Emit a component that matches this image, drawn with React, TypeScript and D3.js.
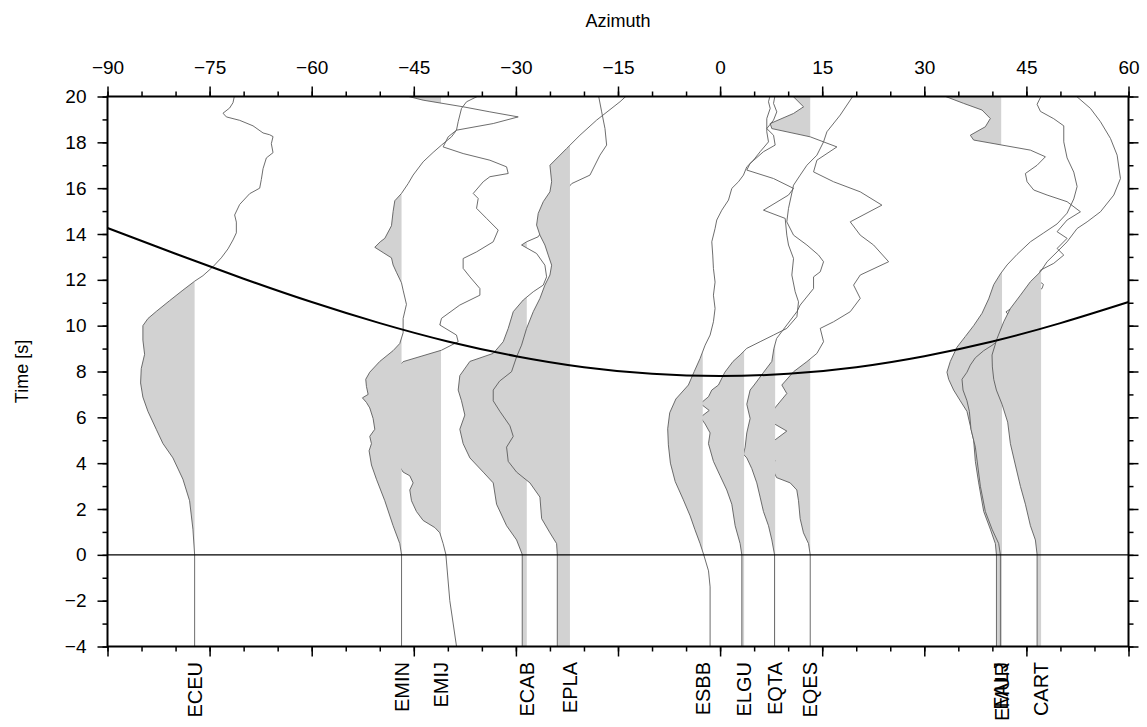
import React, { Component } from "react";
import * as d3 from "d3";

type Pt = [number, number]; // [time (s), azimuth (deg)]

// stations and the azimuth of each trace's zero line
const stations = ["ECEU", "EMIN", "EMIJ", "ECAB", "EPLA", "ESBB", "ELGU", "EQTA", "EQES", "EMUR", "EALJ", "CART"];
const baselines = [-77.2, -46.8, -41.0, -28.4, -22.06, -2.55, 3.53, 8.09, 13.24, 41.42, 41.3, 47.16];
// plotting order: later traces paint their fill over earlier ones
const drawOrder = ["ECEU", "EMIJ", "EMIN", "ECAB", "EPLA", "EQES", "EQTA", "ELGU", "ESBB", "EMUR", "EALJ", "CART"];

const ECEU: Pt[] = [[-4, -77.2], [0, -77.2], [1.12, -77.45], [2.36, -77.94], [3.3, -78.92], [4.23, -80.39], [4.86, -81.86], [5.48, -82.84], [6.26, -84.06], [6.88, -84.8], [7.5, -85.14], [8.13, -85.04], [8.75, -84.55], [9.37, -84.8], [10.0, -84.8], [10.31, -84.06], [10.62, -82.84], [11.09, -80.88], [11.55, -78.92], [11.94, -77.2], [12.18, -75.98], [12.57, -74.51], [12.96, -73.28], [13.35, -72.3], [13.74, -71.56], [14.05, -71.07], [14.52, -71.07], [14.83, -71.32], [15.29, -70.58], [15.76, -69.11], [16.0, -67.64], [16.38, -67.4], [16.85, -67.15], [17.32, -66.66], [17.55, -65.68], [17.94, -65.93], [18.25, -65.68], [18.33, -66.17], [18.41, -67.15], [18.72, -68.62], [18.96, -70.58], [19.11, -72.54], [19.27, -73.03], [19.5, -72.05], [19.73, -71.56], [20.1, -71.3]];
const EMIN: Pt[] = [[-4, -46.8], [0, -46.8], [0.49, -47.06], [1.27, -48.04], [2.36, -49.26], [3.3, -50.49], [3.92, -51.22], [4.54, -51.57], [4.85, -51.22], [5.17, -51.47], [5.48, -50.73], [5.95, -50.98], [6.41, -51.47], [6.65, -51.96], [6.85, -52.55], [7.0, -51.71], [7.35, -51.96], [7.66, -52.06], [7.97, -51.47], [8.44, -50.0], [8.91, -48.04], [9.22, -47.06], [9.69, -46.57], [10.31, -46.57], [10.93, -46.08], [11.55, -46.57], [11.87, -46.81], [12.33, -47.55], [12.65, -48.04], [12.96, -48.28], [13.19, -49.51], [13.42, -50.73], [13.66, -49.93], [13.81, -49.26], [14.36, -48.28], [14.98, -48.04], [15.45, -47.79], [15.77, -46.81], [16.2, -45.83], [16.57, -45.1], [17.15, -43.63], [17.56, -42.16], [17.88, -40.93], [18.24, -39.46], [18.53, -38.73], [18.9, -38.48], [19.48, -37.99], [19.77, -37.25], [20.1, -35.0]];
const EMIJ: Pt[] = [[-4, -38.72], [-2, -39.71], [0.02, -40.29], [0.49, -40.69], [0.96, -41.18], [1.19, -41.91], [1.5, -43.63], [1.89, -44.61], [2.36, -45.34], [2.83, -45.59], [3.14, -45.1], [3.45, -45.59], [3.61, -46.57], [4.08, -47.55], [5.01, -48.04], [6.26, -48.28], [7.5, -48.28], [8.13, -47.55], [8.43, -46.57], [8.93, -40.93], [9.3, -38.48], [9.59, -38.73], [10.03, -41.18], [10.32, -40.93], [10.9, -38.24], [11.33, -35.29], [11.62, -35.29], [12.13, -36.76], [12.5, -37.75], [12.93, -37.75], [13.22, -35.78], [13.66, -33.33], [14.17, -32.6], [14.68, -34.31], [15.12, -35.78], [15.55, -35.54], [15.77, -36.27], [16.28, -34.8], [16.5, -33.82], [16.64, -31.13], [16.93, -31.37], [17.22, -33.82], [17.51, -37.75], [17.8, -40.69], [18.24, -39.95], [18.53, -38.73], [18.82, -33.33], [19.11, -29.66], [19.33, -33.82], [19.55, -37.75], [19.84, -43.63], [20.06, -46.57]];
const ECAB: Pt[] = [[-4, -29.07], [0.02, -29.07], [0.65, -29.9], [1.27, -31.37], [2.21, -32.84], [3.14, -33.33], [3.61, -34.8], [4.23, -36.76], [4.85, -37.75], [5.48, -38.24], [6.1, -37.5], [6.72, -37.99], [7.19, -38.48], [7.82, -38.24], [8.44, -36.76], [8.79, -33.33], [9.3, -31.86], [9.88, -31.13], [10.61, -30.39], [11.12, -28.92], [11.48, -27.45], [11.77, -25.98], [12.13, -25.49], [12.64, -25.74], [13.15, -26.96], [13.52, -29.17], [13.66, -28.43], [13.88, -26.72], [14.6, -25.2], [15.5, -23.8], [16.2, -21.8], [16.57, -19.12], [17.44, -17.65], [17.88, -16.67], [18.6, -16.91], [19.33, -17.4], [20.1, -17.9]];
const EPLA: Pt[] = [[-4, -23.92], [0.02, -23.92], [0.49, -24.02], [0.96, -25.0], [1.58, -26.22], [2.52, -26.47], [3.14, -27.94], [3.61, -29.9], [4.08, -31.13], [4.7, -31.37], [5.17, -30.39], [5.63, -30.88], [6.26, -32.35], [6.72, -33.33], [7.19, -33.33], [7.58, -32.4], [7.99, -30.64], [8.64, -29.9], [9.15, -29.17], [9.88, -28.43], [10.61, -27.45], [11.19, -26.47], [11.77, -25.74], [12.21, -25.0], [12.64, -24.75], [13.08, -25.25], [13.52, -25.74], [13.95, -26.47], [14.39, -26.96], [14.9, -26.72], [15.41, -25.98], [15.84, -25.0], [16.28, -24.75], [17.0, -25.0], [17.73, -22.55], [18.31, -20.59], [18.97, -18.14], [19.77, -14.71], [20.1, -13.5]];
const ESBB: Pt[] = [[-4, -1.47], [-1.4, -1.47], [-0.7, -1.7], [0, -2.4], [0.5, -2.95], [1.1, -3.7], [1.7, -4.4], [2.4, -5.4], [3.2, -6.6], [4.0, -7.3], [4.8, -7.6], [5.5, -7.7], [6.2, -7.4], [6.8, -6.5], [7.41, -4.66], [8.0, -3.8], [8.57, -2.94], [9.15, -2.2], [9.59, -1.47], [10.17, -0.98], [10.75, -0.74], [11.33, -0.98], [11.9, -0.74], [12.5, -0.98], [13.08, -1.08], [13.66, -1.22], [14.24, -0.74], [14.61, -0.49], [15.04, 0.25], [15.48, 1.23], [15.99, 1.72], [16.28, 2.7], [16.57, 3.43], [16.93, 3.92], [17.22, 4.9], [17.59, 5.88], [18.02, 7.11], [18.46, 6.86], [19.04, 6.86], [19.48, 7.36], [19.77, 7.11], [20.1, 7.4]];
const ELGU: Pt[] = [[-4, 3.19], [0, 3.19], [0.49, 2.94], [1.27, 2.21], [2.21, 1.72], [2.83, 0.98], [3.45, 0.0], [4.08, -0.98], [4.85, -1.71], [5.32, -1.47], [5.71, -2.2], [6.0, -2.9], [6.3, -1.6], [6.6, -2.9], [6.9, -1.7], [7.19, -1.22], [7.41, -0.24], [7.97, 0.7], [8.44, 1.9], [8.72, 2.94], [9.01, 3.92], [9.3, 5.88], [9.59, 7.85], [9.88, 9.8], [10.39, 11.28], [11.04, 11.52], [11.48, 11.03], [12.21, 10.54], [12.93, 10.79], [13.52, 10.05], [13.95, 9.8], [14.68, 9.56], [15.04, 6.37], [15.7, 10.05], [15.99, 10.79], [16.42, 7.85], [16.79, 3.92], [17.08, 4.41], [17.59, 6.37], [17.88, 8.09], [18.31, 7.85], [18.6, 6.86], [18.97, 7.85], [19.33, 8.33], [19.7, 7.85], [20.1, 8.1]];
const EQTA: Pt[] = [[-4, 8.0], [0, 8.0], [0.65, 7.6], [1.27, 7.11], [1.89, 6.37], [2.52, 5.88], [3.14, 5.39], [3.76, 4.66], [4.23, 3.92], [4.39, 3.43], [4.7, 3.68], [5.32, 3.92], [5.95, 4.41], [6.57, 3.92], [7.19, 4.41], [7.41, 5.0], [7.97, 6.4], [8.44, 7.6], [9.0, 7.9], [9.44, 8.3], [10.03, 9.8], [10.61, 11.28], [10.9, 11.77], [11.62, 13.73], [12.13, 13.73], [12.35, 14.71], [12.79, 15.2], [13.08, 14.47], [13.52, 12.75], [13.95, 10.79], [14.53, 9.8], [15.12, 10.05], [16.13, 10.79], [16.57, 11.77], [17.0, 12.75], [17.44, 14.22], [18.02, 15.2], [18.46, 15.69], [19.19, 17.65], [20.06, 19.61]];
const EQES: Pt[] = [[-4, 13.24], [0, 13.24], [0.49, 12.99], [0.96, 12.25], [1.58, 11.76], [2.36, 11.52], [2.83, 11.27], [3.14, 10.3], [3.37, 8.3], [3.8, 7.6], [4.1, 8.05], [4.6, 7.5], [5.0, 8.0], [5.4, 9.8], [5.71, 8.0], [6.1, 7.6], [6.41, 8.05], [7.04, 9.8], [7.41, 9.07], [7.99, 10.79], [8.43, 12.75], [8.79, 14.22], [9.3, 15.2], [9.88, 14.71], [10.17, 16.67], [10.61, 19.12], [11.19, 20.59], [11.77, 19.61], [12.21, 20.59], [12.79, 24.76], [13.52, 22.55], [13.95, 20.59], [14.53, 19.12], [15.26, 23.77], [15.84, 20.59], [16.28, 16.67], [16.71, 13.73], [17.22, 14.22], [17.8, 17.16], [18.24, 13.24], [18.6, 7.6], [18.82, 7.36], [19.26, 10.79], [19.55, 12.26], [20.06, 10.54]];
const EMUR: Pt[] = [[-4, 40.6], [0, 40.6], [0.49, 40.44], [1.12, 39.7], [1.89, 38.73], [3.14, 37.99], [4.08, 37.5], [5.01, 37.25], [5.63, 36.76], [6.26, 36.27], [6.72, 35.29], [7.19, 34.31], [7.66, 33.58], [7.97, 33.33], [8.44, 33.82], [9.06, 34.8], [9.53, 36.03], [10.0, 37.25], [10.54, 38.48], [11.17, 39.46], [11.79, 40.2], [12.26, 41.18], [12.65, 42.16], [13.11, 43.63], [13.66, 45.59], [14.05, 47.55], [14.44, 49.51], [14.91, 50.98], [15.53, 51.96], [16.07, 52.45], [16.7, 51.96], [17.32, 50.98], [18.02, 50.49], [18.72, 50.49], [19.03, 49.02], [19.35, 47.06], [19.66, 46.57], [20.1, 47.3]];
const EALJ: Pt[] = [[-4, 41.18], [0, 41.18], [0.49, 40.93], [1.12, 39.95], [1.89, 38.97], [2.99, 38.24], [3.92, 37.84], [4.7, 37.5], [5.48, 36.86], [6.26, 36.62], [6.72, 36.27], [7.19, 35.69], [7.66, 35.54], [7.97, 36.27], [8.28, 36.76], [8.6, 37.5], [8.91, 38.73], [9.14, 39.95], [9.37, 40.93], [9.69, 41.91], [10.2, 43.2], [10.6, 42.0], [11.0, 44.0], [11.4, 45.6], [11.62, 47.3], [11.8, 47.5], [12.0, 46.6], [12.42, 47.06], [12.72, 49.02], [13.08, 50.49], [13.37, 49.51], [13.81, 50.98], [14.1, 49.51], [14.61, 50.98], [14.97, 52.94], [15.41, 50.98], [15.7, 48.04], [15.92, 46.08], [16.28, 45.1], [16.64, 44.85], [17.0, 46.57], [17.37, 47.79], [17.66, 45.59], [17.88, 41.42], [18.1, 37.25], [18.31, 36.76], [18.68, 38.97], [19.04, 39.7], [19.41, 38.48], [19.7, 35.78], [20.06, 32.6]];
const CART: Pt[] = [[-4, 46.57], [0.02, 46.57], [0.65, 46.32], [1.27, 45.59], [2.21, 44.85], [2.99, 44.12], [3.92, 43.38], [4.85, 42.65], [5.79, 42.25], [6.57, 41.42], [7.19, 40.59], [7.66, 40.2], [8.2, 40.0], [8.72, 39.95], [9.44, 40.69], [10.17, 41.67], [10.75, 42.65], [11.33, 44.12], [11.92, 45.59], [12.35, 47.06], [12.79, 48.04], [13.22, 49.51], [13.66, 50.98], [14.24, 52.45], [14.53, 53.92], [14.97, 55.88], [15.7, 57.84], [16.42, 58.82], [17.44, 58.33], [18.17, 57.35], [18.9, 55.88], [19.48, 54.41], [20.1, 52.0]];

// predicted arrival curve
const moveoutAz = [-90, -80, -70, -60, -50, -40, -30, -20, -10, 0, 10, 20, 30, 40, 50, 60];
const moveoutTime = [14.26, 13.14, 12.05, 11.03, 10.11, 9.31, 8.67, 8.19, 7.9, 7.8, 7.9, 8.19, 8.67, 9.31, 10.11, 11.03];

const xTickLabels = [-90, -75, -60, -45, -30, -15, 0, 15, 30, 45, 60];
const yTickLabels = [-4, -2, 0, 2, 4, 6, 8, 10, 12, 14, 16, 18, 20];

// clip trace to the side left of its zero line, adding the crossing points
function negativeSide(pts: Pt[], base: number): Pt[] {
  const out: Pt[] = [];
  for (let i = 0; i < pts.length; i++) {
    const [t, a] = pts[i];
    if (i > 0) {
      const [t0, a0] = pts[i - 1];
      if ((a0 - base) * (a - base) < 0) {
        const f = (base - a0) / (a - a0);
        out.push([t0 + f * (t - t0), base]);
      }
    }
    out.push([t, Math.min(a, base)]);
  }
  return out;
}

class App extends Component {
  svgRef = React.createRef<SVGSVGElement>();

  componentDidMount() {
    this.drawChart();
  }

  componentDidUpdate() {
    this.drawChart();
  }

  drawChart() {
    const width = 1147;
    const height = 727;
    const margin = { top: 96.5, right: 18.5, bottom: 80.5, left: 107.5 };
    const innerWidth = width - margin.left - margin.right;
    const innerHeight = height - margin.top - margin.bottom;
    const font = "'Liberation Sans', Arial, Helvetica, sans-serif";

    const svg = d3.select(this.svgRef.current).attr("width", width).attr("height", height);
    svg.selectAll("*").remove();

    const xScale = d3.scaleLinear().domain([-90, 60]).range([0, innerWidth]);
    const yScale = d3.scaleLinear().domain([-4, 20]).range([innerHeight, 0]);

    svg.append("defs").append("clipPath").attr("id", "plot-area")
      .append("rect").attr("width", innerWidth).attr("height", innerHeight);

    const inner = svg.append("g").attr("transform", `translate(${margin.left},${margin.top})`);
    const plot = inner.append("g").attr("clip-path", "url(#plot-area)");

    const traceTable: Record<string, Pt[]> = { ECEU, EMIN, EMIJ, ECAB, EPLA, ESBB, ELGU, EQTA, EQES, EMUR, EALJ, CART };
    const traceLine = d3.line<Pt>().x(d => xScale(d[1])).y(d => yScale(d[0]));

    drawOrder.forEach(name => {
      const base = baselines[stations.indexOf(name)];
      const pts = traceTable[name];
      const area = d3.area<Pt>()
        .y(d => yScale(d[0]))
        .x0(d => xScale(d[1]))
        .x1(xScale(base));
      plot.append("path").attr("d", area(negativeSide(pts, base))).attr("fill", "#d2d2d2");
      plot.append("path").attr("d", traceLine(pts))
        .attr("fill", "none").attr("stroke", "#5c5c5c").attr("stroke-width", 0.9);
    });

    // time zero
    plot.append("line")
      .attr("x1", 0).attr("x2", innerWidth)
      .attr("y1", yScale(0)).attr("y2", yScale(0))
      .attr("stroke", "#000").attr("stroke-width", 1.3);

    const moveout: Pt[] = moveoutAz.map((a, i) => [moveoutTime[i], a]);
    const curveLine = d3.line<Pt>().x(d => xScale(d[1])).y(d => yScale(d[0])).curve(d3.curveNatural);
    plot.append("path").attr("d", curveLine(moveout))
      .attr("fill", "none").attr("stroke", "#000").attr("stroke-width", 2);

    // axes
    const xMinor = d3.range(-90, 61, 5);
    const yMinor = d3.range(-4, 21, 1);
    const styleAxis = (sel: any) => {
      sel.select(".domain").remove();
      sel.selectAll("line").attr("stroke", "#000").attr("stroke-width", 1.5);
      sel.selectAll("text").attr("font-family", font).attr("font-size", 19).attr("fill", "#000");
    };

    inner.append("g").call(d3.axisTop(xScale).tickValues(xMinor).tickSize(5).tickFormat(() => "")).call(styleAxis);
    inner.append("g").call(d3.axisTop(xScale).tickValues(xTickLabels).tickSize(10).tickPadding(13)).call(styleAxis);
    inner.append("g").attr("transform", `translate(0,${innerHeight})`)
      .call(d3.axisBottom(xScale).tickValues(xMinor).tickSize(5).tickFormat(() => "")).call(styleAxis);
    inner.append("g").attr("transform", `translate(0,${innerHeight})`)
      .call(d3.axisBottom(xScale).tickValues(xTickLabels).tickSize(10).tickFormat(() => "")).call(styleAxis);
    inner.append("g").call(d3.axisLeft(yScale).tickValues(yMinor).tickSize(5).tickFormat(() => "")).call(styleAxis);
    inner.append("g").call(d3.axisLeft(yScale).tickValues(yTickLabels).tickSize(10).tickPadding(11)).call(styleAxis);
    inner.append("g").attr("transform", `translate(${innerWidth},0)`)
      .call(d3.axisRight(yScale).tickValues(yMinor).tickSize(5).tickFormat(() => "")).call(styleAxis);
    inner.append("g").attr("transform", `translate(${innerWidth},0)`)
      .call(d3.axisRight(yScale).tickValues(yTickLabels).tickSize(10).tickFormat(() => "")).call(styleAxis);

    inner.append("rect")
      .attr("width", innerWidth).attr("height", innerHeight)
      .attr("fill", "none").attr("stroke", "#000").attr("stroke-width", 2);

    // station names under the frame
    stations.forEach((name, i) => {
      svg.append("text")
        .attr("transform", `translate(${margin.left + xScale(baselines[i])},662) rotate(-90)`)
        .attr("text-anchor", "end")
        .attr("dy", "0.35em")
        .attr("font-family", font)
        .attr("font-size", 20)
        .text(name);
    });

    // Title
    svg.append("text")
      .attr("x", margin.left + innerWidth / 2)
      .attr("y", 27)
      .attr("text-anchor", "middle")
      .attr("font-family", font)
      .attr("font-size", 18)
      .text("Azimuth");

    // Y-axis label
    svg.append("text")
      .attr("transform", `translate(28,${margin.top + innerHeight / 2}) rotate(-90)`)
      .attr("text-anchor", "middle")
      .attr("font-family", font)
      .attr("font-size", 18)
      .text("Time [s]");
  }

  render() {
    return <svg ref={this.svgRef} style={{ position: "absolute", left: 0, top: 0 }} />;
  }
}

export default App;
